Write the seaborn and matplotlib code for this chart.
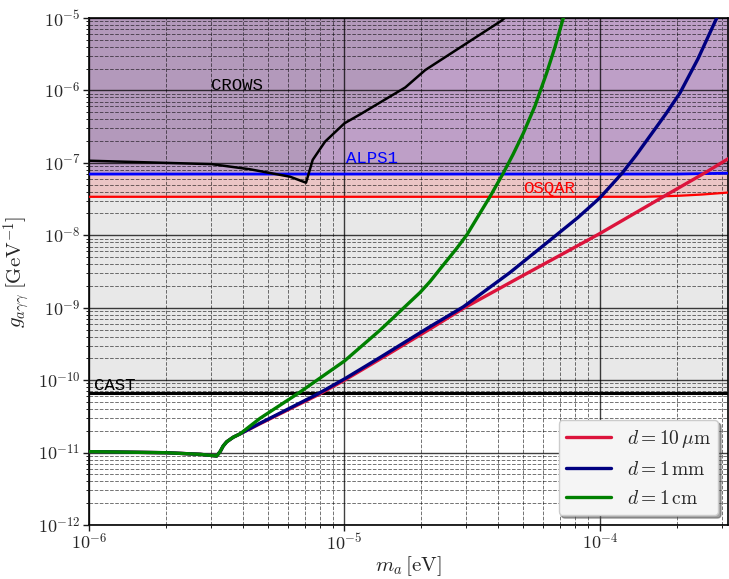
import numpy as np
import pandas as pd
import matplotlib
matplotlib.use("Agg")
import matplotlib.pyplot as plt
from matplotlib.ticker import LogLocator, FuncFormatter, NullFormatter
import seaborn as sns

# ---------------------------------------------------------------- data
# shared low-mass part of the sensitivity curves (m_a [eV], g [GeV^-1])
low_mass = [1.0e-6, 2.01e-6, 2.72e-6, 3.16e-6, 3.26e-6, 3.35e-6, 3.46e-6, 3.67e-6, 3.90e-6]
low_g = [1.03e-11, 9.95e-12, 9.46e-12, 8.97e-12, 1.03e-11, 1.23e-11, 1.41e-11, 1.63e-11, 1.81e-11]

# d = 10 um
mass_10um = [4.67e-6, 7.83e-6, 1.0e-5, 1.377e-5, 2.16e-5, 2.92e-5, 4.87e-5, 7.64e-5, 1.0e-4,
             1.77e-4, 2.62e-4, 3.2e-4]
g_10um = [2.50e-11, 6.2e-11, 1.0e-10, 1.95e-10, 5.08e-10, 9.8e-10, 2.65e-9, 6.3e-9, 1.06e-8,
          3.41e-8, 7.55e-8, 1.16e-7]

# d = 1 mm
mass_1mm = [4.67e-6, 7.83e-6, 1.0e-5, 1.377e-5, 2.16e-5, 2.92e-5, 4.443e-5, 5.82e-5, 8.202e-5,
            1.0e-4, 1.22e-4, 1.383e-4, 1.597e-4, 1.813e-4, 2.056e-4, 2.418e-4, 2.86e-4, 2.92e-4]
g_1mm = [2.54e-11, 6.4e-11, 1.04e-10, 2.055e-10, 5.47e-10, 1.03e-9, 3.06e-9, 6.6e-9, 1.76e-8,
         3.30e-8, 7.18e-8, 1.268e-7, 2.56e-7, 4.77e-7, 9.22e-7, 2.73e-6, 9.9e-6, 1.2e-5]

# d = 1 cm
mass_1cm = [4.67e-6, 6.59e-6, 1.0e-5, 1.377e-5, 1.975e-5, 2.16e-5, 2.436e-5, 2.75e-5, 3.01e-5,
            3.71e-5, 4.18e-5, 4.566e-5, 5.01e-5, 5.567e-5, 6.18e-5, 6.667e-5, 7.18e-5, 7.3e-5]
g_1cm = [2.97e-11, 6.58e-11, 1.84e-10, 4.89e-10, 1.62e-9, 2.29e-9, 3.89e-9, 6.6e-9, 1.01e-8,
         3.41e-8, 7.18e-8, 1.304e-7, 2.56e-7, 6.10e-7, 1.73e-6, 3.98e-6, 9.9e-6, 1.2e-5]

# existing exclusion limits
crows_mass = [1.0e-6, 3.02e-6, 4.27e-6, 6.12e-6, 7.07e-6, 7.51e-6, 8.39e-6, 1.0e-5, 1.15e-5,
              1.73e-5, 2.07e-5, 4.12e-5, 4.3e-5]
crows_g = [1.07e-7, 9.6e-8, 8.15e-8, 6.44e-8, 5.32e-8, 1.10e-7, 1.96e-7, 3.52e-7, 4.66e-7,
           1.10e-6, 1.91e-6, 9.2e-6, 1.05e-5]

alps_mass = [1.0e-6, 2.0e-4, 3.2e-4]
alps_g = [7.0e-8, 7.0e-8, 7.2e-8]

osqar_mass = [1.0e-6, 1.5e-4, 2.0e-4, 2.5e-4, 3.2e-4]
osqar_g = [3.4e-8, 3.4e-8, 3.5e-8, 3.65e-8, 3.9e-8]

cast_mass = [1.0e-6, 3.2e-4]
cast_g = [6.6e-11, 6.6e-11]

labels = [r"$d = 10\,\mu\mathrm{m}$", r"$d = 1\,\mathrm{mm}$", r"$d = 1\,\mathrm{cm}$"]

# ---------------------------------------------------------------- style
sns.set_theme(style="ticks")
plt.rcParams["mathtext.fontset"] = "cm"
plt.rcParams["font.family"] = ["DejaVu Sans"]

fig = plt.figure(figsize=(7.29, 5.79), dpi=100)
ax = fig.add_axes([89 / 729, 54 / 579, 639 / 729, 507 / 579])
ax.set_xscale("log")
ax.set_yscale("log")
ax.set_xlim(1e-6, 3.17e-4)
ax.set_ylim(1e-12, 1e-5)

TOP = 1e-3
# shaded exclusion regions
ax.fill_between(cast_mass, cast_g, TOP, color="gray", alpha=0.18, lw=0, zorder=1)
ax.fill_between(osqar_mass, osqar_g, TOP, color="red", alpha=0.15, lw=0, zorder=1)
ax.fill_between(alps_mass, alps_g, TOP, color="#6a5acd", alpha=0.35, lw=0, zorder=1)
ax.fill_between(crows_mass, crows_g, TOP, color="gray", alpha=0.17, lw=0, zorder=1)

# limit boundaries
sns.lineplot(x=cast_mass, y=cast_g, color="black", lw=2.2, ax=ax, sort=False, estimator=None, zorder=3)
sns.lineplot(x=osqar_mass, y=osqar_g, color="red", lw=1.6, ax=ax, sort=False, estimator=None, zorder=3)
sns.lineplot(x=alps_mass, y=alps_g, color="blue", lw=2.0, ax=ax, sort=False, estimator=None, zorder=3)
sns.lineplot(x=crows_mass, y=crows_g, color="black", lw=1.8, ax=ax, sort=False, estimator=None, zorder=3)

# sensitivity curves
curves = [
    (low_mass + mass_10um, low_g + g_10um, "crimson"),
    (low_mass + mass_1mm, low_g + g_1mm, "navy"),
    (low_mass + mass_1cm, low_g + g_1cm, "green"),
]
for (m, g, c), lab in zip(curves, labels):
    df = pd.DataFrame({"m": m, "g": g})
    sns.lineplot(data=df, x="m", y="g", color=c, lw=2.4, label=lab, ax=ax,
                 sort=False, estimator=None, zorder=4)

# experiment names
mono = dict(family="Liberation Mono", fontsize=12.5, zorder=5)
ax.text(3.0e-6, 1.0e-6, "CROWS", color="black", va="baseline", **mono)
ax.text(1.01e-5, 1.0e-7, "ALPS1", color="blue", va="baseline", **mono)
ax.text(5.0e-5, 3.8e-8, "OSQAR", color="red", va="baseline", **mono)
ax.text(1.05e-6, 7.3e-11, "CAST", color="black", va="baseline", **mono)

# grid and ticks
ax.xaxis.set_major_locator(LogLocator(base=10, numticks=20))
ax.yaxis.set_major_locator(LogLocator(base=10, numticks=20))
ax.xaxis.set_minor_locator(LogLocator(base=10, subs=np.arange(2, 10), numticks=100))
ax.yaxis.set_minor_locator(LogLocator(base=10, subs=np.arange(2, 10), numticks=100))
fmt = FuncFormatter(lambda v, p: r"$10^{%d}$" % int(round(np.log10(v))))
ax.xaxis.set_major_formatter(fmt)
ax.yaxis.set_major_formatter(fmt)
ax.xaxis.set_minor_formatter(NullFormatter())
ax.yaxis.set_minor_formatter(NullFormatter())
ax.tick_params(axis="both", which="major", labelsize=13, length=4, width=1, color="k", pad=2)
ax.tick_params(axis="both", which="minor", length=2, width=0.7, color="k")
ax.set_axisbelow(False)
ax.grid(True, which="major", color="black", lw=1.0, alpha=0.75, ls="-")
ax.grid(True, which="minor", color="black", lw=0.7, alpha=0.55, ls="--")
for s in ax.spines.values():
    s.set_color("black")
    s.set_linewidth(1.2)

ax.set_xlabel(r"$m_a\,[\mathrm{eV}]$", fontsize=15, labelpad=0)
ax.set_ylabel(r"$g_{a\gamma\gamma}\;[\mathrm{GeV}^{-1}]$", fontsize=15, labelpad=4)

leg = ax.legend(loc="lower right", fontsize=14, fancybox=True, shadow=True,
                handlelength=2.3, frameon=True, facecolor="0.96", edgecolor="0.8",
                framealpha=1.0, borderaxespad=0.5)
leg.set_zorder(10)

fig.savefig("out.png", dpi=100)
